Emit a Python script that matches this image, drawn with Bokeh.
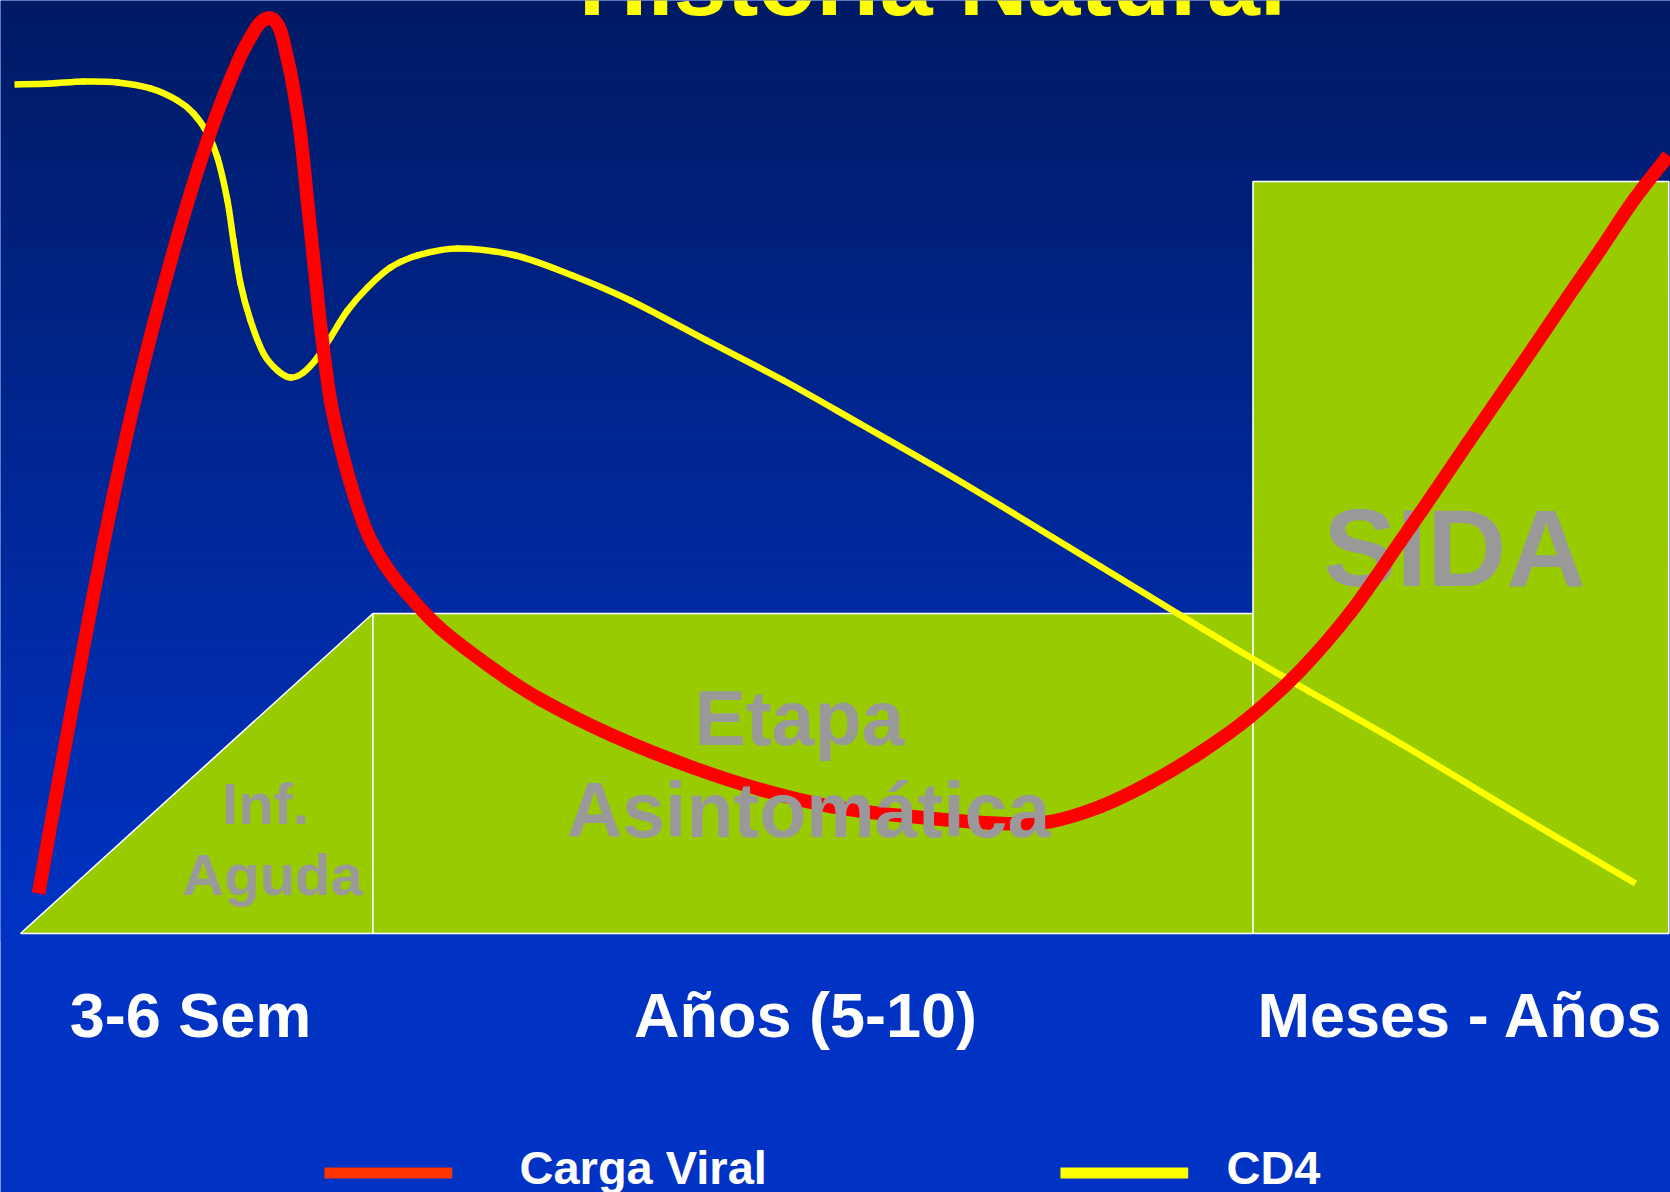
import numpy as np
from bokeh.plotting import figure
from bokeh.models import Range1d
from bokeh.core.properties import value
from bokeh.embed import file_html
from bokeh.resources import INLINE

# ---------------- data (schematic units: x = time, y = relative level, baseline = 0)
title = "Historia Natural"
phase_names = [["Inf.", "Aguda"], ["Etapa", "Asintomática"], ["SIDA"]]
phase_durations = ["3-6 Sem", "Años (5-10)", "Meses - Años"]
phase_start = [1.2, 22.3, 75.0]
phase_end = [22.3, 75.0, 99.9]
phase_height = [34.3, 34.3, 80.6]
series_names = ["Carga Viral", "CD4"]

viral_x = [2.28, 3.27, 4.37, 5.50, 6.70, 8.03, 9.28, 10.54, 11.86, 13.10, 14.25, 14.70,
           15.00, 15.36, 15.63, 15.87, 16.11, 16.35, 16.53, 16.74, 16.89, 17.07, 17.31,
           17.49, 17.96, 18.38, 18.80, 19.22, 19.76, 20.42, 21.14, 21.98, 23.05, 24.25,
           26.35, 29.64, 32.34, 36.65, 41.44, 45.51, 49.76, 53.89, 59.88, 62.87, 65.87,
           68.86, 71.86, 74.85, 77.84, 80.84, 83.83, 85.81, 87.84, 89.82, 91.80, 93.83,
           95.81, 97.78, 99.88]
viral_y = [4.29, 14.26, 24.97, 35.69, 46.41, 57.13, 66.02, 74.28, 82.10, 88.53, 93.57, 95.18,
           96.14, 97.21, 97.75, 98.02, 98.12, 97.96, 97.59, 96.89, 96.03, 94.64, 92.71,
           91.10, 85.74, 78.56, 71.38, 64.31, 57.13, 51.77, 47.16, 42.87, 39.44, 36.65,
           32.69, 28.19, 25.08, 21.22, 17.79, 15.43, 13.61, 12.65, 11.79, 12.00, 13.61,
           16.18, 19.40, 23.26, 28.19, 34.41, 42.02, 47.16, 52.52, 57.66, 62.81, 68.17,
           73.31, 78.56, 83.39]

cd4_x = [0.84, 2.99, 4.97, 7.01, 8.98, 10.60, 11.56, 12.40, 12.99, 13.59, 13.95, 14.37,
         14.97, 15.75, 16.59, 17.37, 18.14, 18.98, 19.76, 20.78, 21.98, 23.35, 24.97,
         27.37, 30.84, 34.25, 37.72, 42.28, 46.89, 51.44, 56.05, 59.88, 65.87, 70.48,
         75.87, 83.83, 91.80, 97.90]
cd4_y = [91.00, 91.10, 91.32, 91.21, 90.57, 89.28, 87.89, 85.74, 83.17, 78.56, 74.28, 69.67,
         65.70, 62.17, 60.34, 59.59, 60.13, 61.74, 63.88, 66.77, 69.24, 71.38, 72.67,
         73.42, 72.67, 70.53, 67.85, 63.56, 59.27, 54.66, 49.95, 45.87, 39.34, 34.30,
         28.51, 20.36, 11.79, 5.36]

# ---------------- style / layout constants
W, H = 1670, 1192
X0, X1 = 0.0, 100.0
Y0, Y1 = -27.76, 100.0
FONT = value("Liberation Sans")
GREEN = "#99CC00"
GREY = "#999999"
RED = "#FF0000"
YELLOW = "#FFFF00"
BOTTOM_BLUE = "#0033C4"
BASE_SHIFT = 0.36  # em; compensates the renderer's baseline placement

p = figure(width=W, height=H, x_range=Range1d(X0, X1), y_range=Range1d(Y0, Y1),
           output_backend="svg", toolbar_location=None, min_border=0,
           x_axis_type=None, y_axis_type=None, outline_line_color=None,
           background_fill_color=BOTTOM_BLUE, border_fill_color=BOTTOM_BLUE)
p.grid.visible = False

# background gradient (dark navy at top -> bright blue near the baseline)
n = 140
top_c = np.array([0x00, 0x1A, 0x64])
bot_c = np.array([0x00, 0x33, 0xC4])
edges = np.linspace(Y1, -0.8, n + 1)
cols = []
for i in range(n):
    t = i / (n - 1)
    c = (top_c + (bot_c - top_c) * t).round().astype(int)
    cols.append("#%02x%02x%02x" % tuple(c))
p.quad(left=X0, right=X1, top=edges[:-1], bottom=edges[1:] - 0.05, fill_color=cols,
       line_color=None)

# phase shapes: ramp for the acute phase, blocks for the others
xs, ys = [], []
for i, (a, b, h) in enumerate(zip(phase_start, phase_end, phase_height)):
    if i == 0:
        xs.append([a, b, b])
        ys.append([0, h, 0])
    else:
        xs.append([a, a, b, b])
        ys.append([0, h, h, 0])
p.patches(xs, ys, fill_color=GREEN, line_color="white", line_width=1.6)


def label(x, y, txt, size, color, align="center"):
    p.text(x=x, y=y, text=txt, text_color=color, text_font=FONT, text_font_style="bold",
           text_font_size=value(f"{size}px"), text_align=align, text_baseline="alphabetic",
           y_offset=-BASE_SHIFT * size)


# phase label anchors (layout)
label_pos = [[(15.87, 11.68), (16.29, 4.07)],
             [(47.84, 20.15), (48.38, 10.29)],
             [(87.07, 37.08)]]
label_size = [58, 77, 110]


def phase_text(i):
    for line, (lx, ly) in zip(phase_names[i], label_pos[i]):
        label([lx], [ly], [line], label_size[i], GREY)


def smooth(xv, yv, color, width):
    # smooth curve through the read points (cubic Bezier, Catmull-Rom tangents)
    x = np.asarray(xv, float)
    y = np.asarray(yv, float)
    xp = np.concatenate([[x[0]], x, [x[-1]]])
    yp = np.concatenate([[y[0]], y, [y[-1]]])
    x0, x1 = xp[1:-2], xp[2:-1]
    y0, y1 = yp[1:-2], yp[2:-1]
    cx0 = x0 + (xp[2:-1] - xp[:-3]) / 6.0
    cy0 = y0 + (yp[2:-1] - yp[:-3]) / 6.0
    cx1 = x1 - (xp[3:] - xp[1:-2]) / 6.0
    cy1 = y1 - (yp[3:] - yp[1:-2]) / 6.0
    segs = dict(x0=x0, y0=y0, x1=x1, y1=y1, cx0=cx0, cy0=cy0, cx1=cx1, cy1=cy1)
    ends = [0, len(x0) - 1]
    mid = slice(1, len(x0) - 1)
    # flat caps at the two ends of the curve, round joins inside
    p.bezier(**{k: v[ends] for k, v in segs.items()}, line_color=color, line_width=width,
             line_cap="butt")
    p.bezier(**{k: v[mid] for k, v in segs.items()}, line_color=color, line_width=width,
             line_cap="round")


phase_text(2)

# series
smooth(cd4_x, cd4_y, YELLOW, 6.5)
smooth(viral_x, viral_y, RED, 13.5)

phase_text(0)
phase_text(1)

# durations under the baseline
label([11.38, 48.20, 87.43], [-11.15] * 3, phase_durations, 63, "white")

# legend (manual)
leg_colors = ["#FF3300", YELLOW]
leg_x0 = [19.40, 63.47]
leg_len = 7.65
leg_y = -25.67
p.segment(x0=leg_x0, y0=[leg_y] * 2, x1=[v + leg_len for v in leg_x0], y1=[leg_y] * 2,
          line_color=leg_colors, line_width=11)
label([31.08, 73.41], [-26.90] * 2, series_names, 47, "white", align="left")

# title (partly cut at the top)
label([55.81], [98.28], [title], 95, YELLOW)

open("out.html", "w").write(file_html(p, INLINE))
